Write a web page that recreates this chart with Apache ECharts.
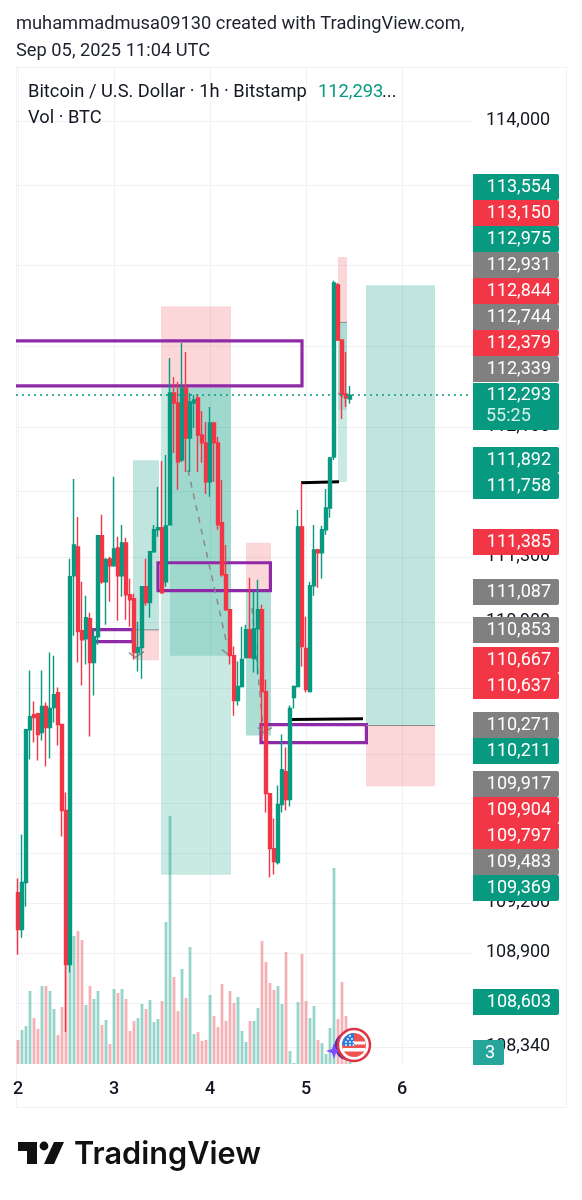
<!DOCTYPE html>
<html>
<head>
<meta charset="utf-8">
<style>html,body{margin:0;padding:0;background:#fff}#chart{width:582px;height:1200px}</style>
<script src="https://cdn.jsdelivr.net/npm/echarts@6/dist/echarts.min.js"></script>
</head>
<body>
<div id="chart"></div>
<script>
// BTC/USD hourly candles from Sep 2 00:00 UTC: open, close, low, high
const candles = [
[109262,109040,108890,109347],[109040,109323,108992,109612],[109323,110246,109178,110252],[110246,110325,110065,110605],
[110337,110319,110168,110417],[110343,110216,110059,110349],[110228,110387,110180,110605],[110387,110259,110023,110411],
[110259,110375,110071,110715],[110381,110459,110289,110696],[110471,110277,110150,110502],[110277,109757,109600,110277],
[109757,108831,108428,109865],[108831,111177,108783,111287],[111183,111372,110817,111777],[111360,110842,110654,111544],
[110848,110793,110514,111147],[110799,110927,110642,111061],[110921,110654,110204,110958],[110654,110811,110453,110860],
[110811,111428,110763,111428],[111428,111147,111135,111557],[111147,111281,110884,111293],[111287,111244,111025,111299],
[111244,111348,111238,111790],[111354,111183,110909,111422],[111183,111385,111055,111495],[111385,111067,110915,111416],
[111067,111037,110872,111165],[111043,110715,110672,111073],[110715,110745,110599,110903],[110745,111116,110556,111116],
[111116,111019,111000,111287],[111019,111330,110927,111330],[111330,111465,111324,111495],[111465,111477,111422,111728],
[111477,111079,111073,111888],[111147,111489,111116,111925],[111495,112307,111489,112523],[112307,112245,111937,112406],
[112245,111882,111710,112376],[111894,112338,111882,112616],[112338,112029,111820,112560],[112029,112252,111820,112307],
[112245,112264,112091,112295],[112276,112048,111820,112301],[112048,111999,111876,112196],[111999,111759,111685,112128],
[111759,112122,111667,112220],[112122,111999,111759,112128],[111999,111495,111465,112036],[111508,111190,111177,111771],
[111190,110976,110970,111372],[110976,110696,110642,110976],[110696,110423,110331,110751],[110423,110508,110393,110660],
[110508,110672,110502,110872],[110684,110854,110678,110884],[110854,110684,110678,111171],[110678,110860,110593,111086],
[110860,110976,110581,111159],[110976,110477,110186,111006],[110477,109859,109745,110550],[109859,109527,109353,109859],
[109527,109449,109371,109708],[109443,109793,109431,109908],[109793,110004,109745,110216],[109992,109823,109757,110138],
[109823,110375,109781,110393],[110441,110508,110375,110514],[110508,111483,110502,111587],[111483,110751,110630,111753],
[110739,110490,110471,110933],[110477,111122,110471,111147],[111122,111342,111061,111495],[111342,111324,111110,111348],
[111324,111465,111165,111489],[111465,111599,111434,111716],[111599,111906,111538,111912],[111912,112989,111894,113002],
[112977,112635,112629,112989],[112635,112295,112147,112635],[112301,112276,112221,112560],[112270,112293,112240,112350]
];
// Hourly traded volume for the same candles
const volumes = [
24,34,38,73,46,35,78,78,73,55,29,57,135,118,128,133,124,59,78,65,73,39,44,20,75,71,75,65,33,43,46,60,55,64,42,45,63,142,248,87,53,95,66,117,
30,32,23,24,69,48,37,80,43,73,61,67,33,22,43,43,56,123,102,81,74,78,60,112,13,1,62,110,63,46,58,24,21,10,36,196,45,82,48,2
];

const priceTicks = [114000,113600,113100,112600,112100,111700,111300,110900,110500,110100,109800,109500,109200,108900,108600,108340];
const dayStartHours = [0,24,48,72,96];
const dayLabels = ['2','3','4','5','6'];
const lastPrice = 112293;

// Labelled price levels on the right-hand scale
const tagPrices = [113554,113150,112975,112931,112844,112744,112379,112339,111892,111758,111385,111087,110853,110667,110637,110271,110211,109917,109904,109797,109483,109369,108603];
const tagKinds = ['up','down','up','flat','down','flat','down','flat','up','up','down','flat','flat','down','down','flat','up','flat','down','down','flat','up','up'];

// Position tools: x from, x to (hours), price from, price to, shade
const zones = [
[35.75,53.25,112844,112339,'loss'],[35.75,53.25,112339,109369,'gain'],[38,53.25,112339,110696,'gain'],
[28.75,35.25,111892,110853,'gainDeep'],[28.75,35.25,110853,110667,'loss'],
[57,63.25,111385,111087,'loss'],[57,63.25,111087,110211,'gain'],[57,63.25,111087,110211,'gainSoft'],
[87,104.25,112975,110271,'gainDeep'],[87,104.25,110271,109904,'loss'],
[80,82.25,113150,112744,'loss'],[80,82.25,112744,111758,'gain'],[80,82.25,112744,112202,'gainSoft']
];
// Outlined supply and demand boxes
const boxes = [
[-3,71,112629,112351],[35,63.1,111263,111092],[18.5,28.75,110854,110781],[60.75,87.1,110277,110168]
];
// Flat levels drawn by hand
const entryLines = [[28.75,35.25,110853],[87,104.25,110271],[80,82.25,112744]];
const blackLines = [[70.75,80.25,111754,111760],[68.5,86.25,110307,110313]];
// Projected paths and their arrow heads
const dashedPaths = [[[42.5,111832],[52.25,110763]],[[58.5,110988],[61.25,110259]]];
const arrowHeads = [
[[51,110733],[52.5,110703]],
[[60,110259],[61.25,110228],[63.5,110259]],
[[27.75,110715],[29.25,110684],[31.5,110721]],
[[80,112307],[81.25,112282]]
];

const UP = '#089981', DOWN = '#f23645', FLAT = '#808080', INK = '#131722', GRID = '#f0f1f4', PURPLE = '#8e2aa6';
const fmt = v => Math.round(v).toLocaleString('en-US');
const zoneFill = {
  gain: 'rgba(8,153,129,0.22)', gainDeep: 'rgba(8,153,129,0.26)', gainSoft: 'rgba(8,153,129,0.14)', loss: 'rgba(242,54,69,0.2)'
};
const kindFill = {up: UP, down: DOWN, flat: FLAT};

// Vertical centres of the stacked tags once they have been pushed apart
const tagRows = [187,213,239,265,291,317,343,369,460,486,542,592,630,660,686,725,751,784,810,836,862,888,1002];

const PANE_L = 16, PANE_R = 472, PANE_T = 67, PANE_B = 1064;
const PRICE_MAX = 114339, PRICE_MIN = 108237;
const CAPTION_FONT = '18.3px Roboto';

function segment(api, pts, style) {
  return {type: 'polyline', shape: {points: pts.map(p => api.coord(p))}, style: Object.assign({fill: null}, style), silent: true};
}

const chart = echarts.init(document.getElementById('chart'), null, {renderer: 'canvas'});

function tag(cy, label, fill) {
  return [
    {type: 'rect', z: 50, shape: {x: 473, y: cy - 13, width: 86, height: 26, r: [0, 2, 2, 0]}, style: {fill}},
    {type: 'text', z: 51, style: {x: 551, y: cy, text: label, fill: '#fff', font: '18px Roboto', textAlign: 'right', textVerticalAlign: 'middle'}}
  ];
}
function label(x, y, text, fill, font, align) {
  return {type: 'text', z: 60, style: {x, y, text, fill: fill || INK, font: font || CAPTION_FONT, textAlign: align || 'left', textVerticalAlign: 'middle'}};
}

const graphics = [];
// Chart frame
graphics.push({type: 'rect', z: 0, shape: {x: 16.5, y: 67.5, width: 550, height: 1040}, style: {fill: 'none', stroke: GRID, lineWidth: 1}, silent: true});
// Price tags
tagPrices.forEach((p, i) => graphics.push(...tag(tagRows[i], fmt(p), kindFill[tagKinds[i]])));
// Current price with countdown
graphics.push({type: 'rect', z: 52, shape: {x: 473, y: 383, width: 86, height: 47, r: [0, 2, 2, 0]}, style: {fill: UP}});
graphics.push({type: 'text', z: 53, style: {x: 551, y: 395, text: fmt(lastPrice), fill: '#fff', font: '18px Roboto', textAlign: 'right', textVerticalAlign: 'middle'}});
graphics.push({type: 'text', z: 53, style: {x: 486, y: 416, text: '55:25', fill: '#d4f0ea', font: '18px Roboto', textAlign: 'left', textVerticalAlign: 'middle'}});
// Event counter
graphics.push({type: 'rect', z: 52, shape: {x: 473, y: 1040, width: 31, height: 25, r: [0, 2, 2, 0]}, style: {fill: '#26a69a'}});
graphics.push({type: 'text', z: 53, style: {x: 490, y: 1053, text: '3', fill: '#fff', font: '18px Roboto', textAlign: 'center', textVerticalAlign: 'middle'}});
// Captions
graphics.push(label(16, 24, 'muhammadmusa09130 created with TradingView.com,', '#1e222d'));
graphics.push(label(16, 51, 'Sep 05, 2025 11:04 UTC', '#1e222d'));
graphics.push(label(28, 92, 'Bitcoin / U.S. Dollar · 1h · Bitstamp'));
graphics.push(label(318, 92, '112,293', UP));
graphics.push(label(382, 92, '...'));
graphics.push(label(28, 118, 'Vol · BTC'));
// Wordmark
graphics.push({type: 'polygon', z: 60, shape: {points: [[18,1142],[37,1142],[37,1164],[27,1164],[27,1151],[18,1151]]}, style: {fill: '#111'}});
graphics.push({type: 'circle', z: 60, shape: {cx: 44, cy: 1146, r: 4.4}, style: {fill: '#111'}});
graphics.push({type: 'polygon', z: 60, shape: {points: [[54,1142],[64,1142],[54,1164],[44,1164]]}, style: {fill: '#111'}});
graphics.push(label(74, 1155, 'TradingView', '#111', '600 30.7px Inter'));
// Event marker on the time scale
const fx = 354, fy = 1045;
graphics.push({type: 'arc', z: 61, shape: {cx: 349, cy: 1046, r: 13, startAngle: Math.PI * 0.55, endAngle: Math.PI * 1.3}, style: {stroke: '#5e2aa0', lineWidth: 3, fill: 'none'}});
graphics.push({type: 'polygon', z: 62, shape: {points: [[334,1043],[336,1049],[342,1051],[336,1053],[334,1059],[332,1053],[326,1051],[332,1049]]}, style: {fill: '#7c4dff'}});
graphics.push({type: 'circle', z: 63, shape: {cx: fx, cy: fy, r: 16}, style: {fill: '#fff', stroke: '#dc3548', lineWidth: 2.5}});
graphics.push({type: 'circle', z: 64, shape: {cx: fx, cy: fy, r: 12}, style: {fill: '#ef5350'}});
graphics.push({type: 'rect', z: 65, shape: {x: fx, y: fy - 3.5, width: 11.5, height: 3}, style: {fill: '#fff'}});
graphics.push({type: 'rect', z: 65, shape: {x: fx - 11, y: fy + 3, width: 22, height: 3.5}, style: {fill: '#fff'}});
graphics.push({type: 'sector', z: 66, shape: {cx: fx, cy: fy, r0: 0, r: 12, startAngle: Math.PI, endAngle: Math.PI * 1.5}, style: {fill: '#2f7de1'}});
graphics.push({type: 'rect', z: 66, shape: {x: fx - 10, y: fy - 1, width: 11, height: 2}, style: {fill: '#2f7de1'}});
[[-8,-3],[-4,-3],[-0.5,-3],[-6,-6],[-2,-6],[-4,-9],[-8,0],[-4,0],[-0.5,0]].forEach(d => {
  graphics.push({type: 'circle', z: 67, shape: {cx: fx + d[0], cy: fy + d[1], r: 0.9}, style: {fill: '#fff'}});
});

const option = {
  animation: false,
  backgroundColor: '#fff',
  textStyle: {fontFamily: 'Roboto'},
  grid: [
    {left: PANE_L, right: 582 - PANE_R, top: PANE_T, bottom: 1200 - PANE_B},
    {left: PANE_L, right: 582 - PANE_R, top: 800, bottom: 1200 - PANE_B}
  ],
  xAxis: [
    {type: 'value', gridIndex: 0, min: -0.5, max: 113.5,
     axisLine: {show: false}, axisTick: {show: false}, splitLine: {show: false},
     axisLabel: {customValues: dayStartHours, margin: 16, color: INK, fontSize: 18, fontWeight: 500, fontFamily: 'Roboto',
       formatter: v => dayLabels[dayStartHours.indexOf(v)]}},
    {type: 'value', gridIndex: 1, min: -0.5, max: 113.5, show: false, splitLine: {show: false}}
  ],
  yAxis: [
    {type: 'log', gridIndex: 0, position: 'right', min: PRICE_MIN, max: PRICE_MAX,
     axisLine: {show: false}, axisTick: {show: false}, splitLine: {show: false}, minorSplitLine: {show: false},
     axisLabel: {show: false}},
    {type: 'value', gridIndex: 1, min: 0, max: 264, show: false, splitLine: {show: false}}
  ],
  graphic: {elements: graphics},
  series: [
    // Grid lines and price scale labels
    {type: 'custom', z: 0, silent: true, xAxisIndex: 0, yAxisIndex: 0, clip: false,
     data: priceTicks.map(p => [0, p]), encode: {x: 0, y: 1},
     renderItem: (params, api) => {
       const p = api.value(1), y = Math.round(api.coord([0, p])[1]) + 0.5, cs = params.coordSys;
       return {type: 'group', children: [
         {type: 'line', shape: {x1: cs.x, y1: y, x2: cs.x + cs.width, y2: y}, style: {stroke: GRID, lineWidth: 1}},
         {type: 'text', style: {x: 486, y: y - 1, text: fmt(p), fill: INK, font: '18px Roboto', textAlign: 'left', textVerticalAlign: 'middle'}}
       ]};
     }},
    {type: 'custom', z: 0, silent: true, xAxisIndex: 0, yAxisIndex: 0, clip: false,
     data: dayStartHours.map(h => [h, lastPrice]), encode: {x: 0, y: 1},
     renderItem: (params, api) => {
       const x = Math.round(api.coord([api.value(0), lastPrice])[0]) + 0.5, cs = params.coordSys;
       return {type: 'line', shape: {x1: x, y1: cs.y, x2: x, y2: cs.y + cs.height}, style: {stroke: GRID, lineWidth: 1}};
     }},
    // Position tool shading
    {type: 'custom', z: 1, silent: true, xAxisIndex: 0, yAxisIndex: 0, clip: true,
     data: zones.map(z => z.slice(0, 4)), encode: {x: [0, 1], y: [2, 3]},
     renderItem: (params, api) => {
       const a = api.coord([api.value(0), api.value(2)]), b = api.coord([api.value(1), api.value(3)]);
       return {type: 'rect', shape: {x: a[0], y: a[1], width: b[0] - a[0], height: b[1] - a[1]},
               style: {fill: zoneFill[zones[params.dataIndex][4]]}};
     }},
    // Volume
    {type: 'bar', z: 2, silent: true, xAxisIndex: 1, yAxisIndex: 1, barWidth: 2.8,
     data: volumes.map((v, i) => ({value: [i, v], itemStyle: {color: candles[i][1] >= candles[i][0] ? 'rgba(8,153,129,0.42)' : 'rgba(232,70,80,0.42)'}}))},
    // Supply and demand boxes
    {type: 'custom', z: 3, silent: true, xAxisIndex: 0, yAxisIndex: 0, clip: true,
     data: boxes, encode: {x: [0, 1], y: [2, 3]},
     renderItem: (params, api) => {
       const a = api.coord([api.value(0), api.value(2)]), b = api.coord([api.value(1), api.value(3)]);
       return {type: 'rect', shape: {x: a[0], y: a[1], width: b[0] - a[0], height: b[1] - a[1]},
               style: {fill: 'none', stroke: PURPLE, lineWidth: 3.2}};
     }},
    // Entry levels, marked-up levels, projected paths
    {type: 'custom', z: 3, silent: true, xAxisIndex: 0, yAxisIndex: 0, clip: true,
     data: entryLines, encode: {x: [0, 1], y: 2},
     renderItem: (params, api) => segment(api, [[api.value(0), api.value(2)], [api.value(1), api.value(2)]], {stroke: '#8a8a8a', lineWidth: 1})},
    {type: 'custom', z: 3, silent: true, xAxisIndex: 0, yAxisIndex: 0, clip: true,
     data: blackLines, encode: {x: [0, 1], y: [2, 3]},
     renderItem: (params, api) => segment(api, [[api.value(0), api.value(2)], [api.value(1), api.value(3)]], {stroke: '#000', lineWidth: 3})},
    {type: 'custom', z: 3, silent: true, xAxisIndex: 0, yAxisIndex: 0, clip: true,
     data: dashedPaths.map(p => p[0]), encode: {x: 0, y: 1},
     renderItem: (params, api) => segment(api, dashedPaths[params.dataIndex], {stroke: '#8a8a8a', lineWidth: 1.5, lineDash: [6, 6]})},
    {type: 'custom', z: 3, silent: true, xAxisIndex: 0, yAxisIndex: 0, clip: true,
     data: arrowHeads.map(p => p[0]), encode: {x: 0, y: 1},
     renderItem: (params, api) => segment(api, arrowHeads[params.dataIndex], {stroke: '#8a8a8a', lineWidth: 1.5})},
    // Price candles
    {type: 'candlestick', z: 5, silent: true, xAxisIndex: 0, yAxisIndex: 0, barWidth: 3,
     encode: {x: 0, y: [1, 2, 3, 4]},
     itemStyle: {color: UP, color0: DOWN, borderColor: UP, borderColor0: DOWN, borderWidth: 1.4},
     data: candles.map((c, i) => [i, c[0], c[1], c[2], c[3]]),
     markLine: {silent: true, symbol: 'none', z: 6, label: {show: false}, animation: false,
       lineStyle: {color: UP, type: [2, 4], width: 1.5},
       data: [{yAxis: lastPrice}]}}
  ]
};
chart.setOption(option);
</script>
</body>
</html>
